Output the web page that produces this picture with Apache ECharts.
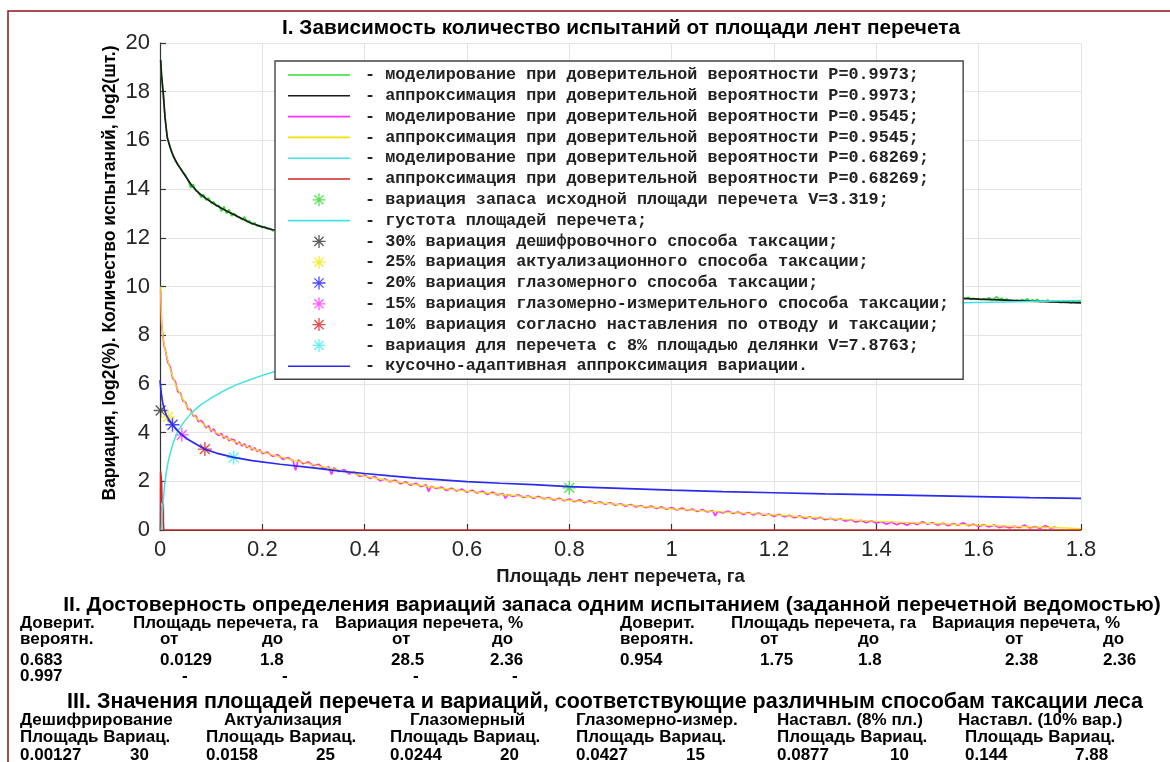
<!DOCTYPE html>
<html>
<head>
<meta charset="utf-8">
<script src="https://cdn.jsdelivr.net/npm/echarts@6/dist/echarts.min.js"></script>
<style>
  html, body { margin: 0; padding: 0; background: #fff; }
  #chart { width: 1170px; height: 762px; }
</style>
</head>
<body>
<div id="chart"></div>
<script>
// ---- Titles and axis names ----
const chartTitle = 'I. Зависимость количество испытаний от площади лент перечета';
const xAxisName = 'Площадь лент перечета, га';
const yAxisName = 'Вариация, log2(%). Количество испытаний, log2(шт.)';
const xTicks = [0, 0.2, 0.4, 0.6, 0.8, 1, 1.2, 1.4, 1.6, 1.8];
const yTicks = [0, 2, 4, 6, 8, 10, 12, 14, 16, 18, 20];

// ---- Modelling, P = 0.9973 (green, noisy) ----
const greenX = [0.0013,0.002,0.003,0.0045,0.0065,0.008,0.01,0.012,0.0143,0.017,0.02,0.023,0.026,0.03,0.035,0.04,0.045,0.05,0.055,0.06,0.065,0.07,0.075,0.08,0.085,0.09,0.095,0.1,0.105,0.11,0.115,0.12,0.125,0.13,0.135,0.14,0.145,0.15,0.155,0.16,0.165,0.17,0.175,0.18,0.185,0.19,0.195,0.2,0.205,0.21,0.215,0.22,0.225,0.23,
  0.25,0.3,0.35,0.4,0.45,0.5,0.55,0.6,0.65,0.7,0.75,0.8,0.85,0.9,0.95,1.0,1.05,1.1,1.15,1.2,1.25,1.3,1.35,1.4,1.45,1.5,1.55,
  1.56,1.565,1.57,1.575,1.58,1.585,1.59,1.595,1.6,1.605,1.61,1.615,1.62,1.625,1.63,1.635,1.64,1.645,1.65,1.655,1.66,1.665,1.67,1.675,1.68,1.685,1.69,1.695,1.7,1.705,1.71,1.715,1.72,1.725,1.73,1.735,1.74,1.745,1.75,1.755,1.76,1.765,1.77,1.775,1.78,1.785,1.79,1.795,1.8];
const greenY = [19.3,19.0,18.6,18.3,17.85,17.4,16.95,16.5,16.15,15.95,15.72,15.5,15.38,15.15,15.02,14.85,14.7,14.58,14.35,14.05,14.2,13.92,13.9,13.66,13.78,13.55,13.64,13.42,13.48,13.3,13.34,13.08,13.28,13.0,13.16,12.9,13.0,12.86,12.84,12.74,12.86,12.66,12.7,12.54,12.62,12.48,12.5,12.42,12.46,12.36,12.38,12.28,12.34,12.24,
  12.2,11.93,11.75,11.57,11.36,11.22,11.05,10.92,10.76,10.66,10.52,10.46,10.33,10.27,10.15,10.12,10.0,9.96,9.88,9.86,9.78,9.76,9.68,9.67,9.6,9.58,9.52,
  9.55,9.48,9.53,9.5,9.56,9.46,9.52,9.49,9.51,9.45,9.5,9.47,9.54,9.46,9.49,9.58,9.47,9.52,9.44,9.49,9.41,9.43,9.38,9.44,9.4,9.47,9.42,9.5,9.39,9.46,9.41,9.48,9.36,9.43,9.39,9.45,9.35,9.42,9.37,9.41,9.33,9.4,9.36,9.42,9.32,9.38,9.34,9.39,9.35];

// ---- Approximation, P = 0.9973 (black) ----
const blackX = [0.0013,0.003,0.0065,0.01,0.0143,0.02,0.026,0.035,0.046,0.062,0.075,0.091,0.105,0.121,0.135,0.15,0.176,0.2,0.221,0.25,0.3,0.4,0.5,0.6,0.7,0.8,0.9,1.0,1.1,1.2,1.3,1.4,1.5,1.6,1.7,1.8];
const blackY = [19.3,18.7,17.9,16.9,16.1,15.7,15.35,15.0,14.65,14.15,13.85,13.6,13.4,13.2,13.05,12.9,12.62,12.45,12.33,12.2,11.95,11.55,11.2,10.9,10.65,10.45,10.25,10.1,9.95,9.85,9.75,9.65,9.57,9.48,9.4,9.33];

// ---- Modelling, P = 0.9545 (magenta, noisy) ----
const pinkX = [0.0013,0.003,0.005,0.008,0.01,0.015,0.02,0.025,0.03,0.035,0.04,0.045,0.05,0.055,0.06,0.065,0.07,0.075,0.08,0.085,0.09,0.095,0.1,0.105,0.11,0.115,0.12,0.125,0.13,0.135,0.14,0.145,0.15,0.155,0.16,0.165,0.17,0.175,0.18,0.185,0.19,0.195,0.2,
  0.21,0.22,0.23,0.24,0.25,0.26,0.265,0.27,0.28,0.29,0.3,0.31,0.32,0.33,0.335,0.34,0.35,0.36,0.37,0.38,0.39,0.4,0.41,0.42,0.43,0.44,0.45,0.46,0.47,0.48,0.49,0.5,0.51,0.52,0.525,0.53,0.54,0.55,0.56,0.57,0.58,0.59,0.6,
  0.61,0.62,0.63,0.64,0.65,0.66,0.67,0.675,0.68,0.69,0.7,0.71,0.72,0.73,0.74,0.75,0.76,0.77,0.78,0.79,0.8,0.81,0.82,0.83,0.84,0.85,0.86,0.87,0.88,0.89,0.9,0.91,0.92,0.93,0.94,0.95,0.96,0.97,0.98,0.99,1.0,
  1.01,1.02,1.03,1.04,1.05,1.06,1.07,1.08,1.085,1.09,1.1,1.11,1.12,1.13,1.14,1.15,1.16,1.17,1.18,1.19,1.2,1.21,1.22,1.23,1.24,1.25,1.26,1.27,1.28,1.29,1.3,1.31,1.32,1.33,1.34,1.35,1.36,1.37,1.38,1.39,1.4,
  1.41,1.42,1.43,1.44,1.45,1.46,1.47,1.48,1.49,1.5,1.51,1.52,1.53,1.54,1.55,1.56,1.57,1.58,1.59,1.6,1.61,1.62,1.63,1.64,1.65,1.66,1.67,1.68,1.69,1.7,1.71,1.72,1.73,1.74,1.75];
const pinkY = [9.85,8.45,8.1,7.55,7.45,6.9,6.7,6.22,6.1,5.68,5.62,5.3,5.25,4.95,4.95,4.68,4.7,4.45,4.5,4.38,4.2,4.28,4.05,4.15,3.95,3.88,3.97,3.76,3.86,3.66,3.74,3.7,3.52,3.62,3.45,3.54,3.38,3.46,3.28,3.38,3.22,3.3,3.14,
  3.2,3.02,3.1,2.9,2.98,2.85,2.45,2.88,2.72,2.8,2.64,2.7,2.52,2.6,2.28,2.55,2.4,2.48,2.3,2.38,2.2,2.26,2.12,2.2,2.02,2.1,1.98,2.05,1.9,1.98,1.84,1.92,1.78,1.86,1.58,1.8,1.7,1.76,1.62,1.72,1.6,1.68,1.55,
  1.63,1.52,1.6,1.46,1.56,1.44,1.5,1.3,1.46,1.38,1.45,1.34,1.4,1.3,1.38,1.28,1.33,1.22,1.3,1.2,1.27,1.16,1.24,1.12,1.2,1.1,1.16,1.06,1.12,1.02,1.08,0.98,1.05,0.95,1.0,0.92,0.98,0.88,0.95,0.85,0.92,
  0.82,0.9,0.8,0.86,0.76,0.84,0.74,0.8,0.58,0.76,0.7,0.78,0.68,0.74,0.64,0.72,0.62,0.7,0.6,0.66,0.56,0.64,0.54,0.6,0.5,0.58,0.47,0.54,0.44,0.52,0.42,0.48,0.4,0.46,0.36,0.43,0.32,0.4,0.3,0.38,0.28,
  0.35,0.24,0.32,0.22,0.3,0.2,0.3,0.22,0.34,0.24,0.3,0.2,0.28,0.18,0.26,0.2,0.3,0.18,0.24,0.14,0.22,0.12,0.2,0.1,0.16,0.08,0.15,0.1,0.2,0.08,0.14,0.06,0.18,0.08,0.12];

// ---- Approximation, P = 0.9545 (yellow) ----
const yellowX = [0.0013,0.002,0.003,0.005,0.008,0.01,0.015,0.02,0.03,0.04,0.05,0.06,0.07,0.08,0.09,0.1,0.12,0.14,0.16,0.18,0.2,0.23,0.26,0.3,0.35,0.4,0.45,0.5,0.55,0.6,0.7,0.8,0.9,1.0,1.1,1.2,1.3,1.4,1.5,1.6,1.7,1.75,1.8];
const yellowY = [10.0,9.3,8.6,8.05,7.65,7.4,7.0,6.6,6.0,5.55,5.18,4.86,4.62,4.43,4.26,4.12,3.88,3.68,3.51,3.35,3.2,3.03,2.87,2.68,2.46,2.21,2.02,1.86,1.71,1.6,1.4,1.22,1.04,0.87,0.74,0.62,0.48,0.36,0.27,0.2,0.13,0.1,0.06];

// ---- Modelling, P = 0.68269 (cyan) ----
const cyanModelX = [0.0008,0.0015,0.003,0.005,0.0065,0.008];
const cyanModelY = [0,1.0,0.95,0.8,0.3,0];

// ---- Approximation, P = 0.68269 (red) ----
const redX = [0.0008,0.0012,0.003,0.004,0.0065,0.0068,1.8];
const redY = [0,2.4,2.0,1.15,1.05,0,0];

// ---- Density of tally areas (cyan) ----
const densityX = [0.0025,0.003,0.0045,0.0065,0.009,0.013,0.017,0.02,0.026,0.035,0.046,0.062,0.08,0.1,0.125,0.15,0.176,0.2,0.225,0.25,0.3,0.4,0.5,0.6,0.7,0.8,0.9,1.0,1.1,1.2,1.3,1.4,1.5,1.57,1.65,1.7,1.8];
const densityY = [0,0.15,0.7,1.23,1.85,2.47,2.9,3.15,3.6,4.05,4.42,4.82,5.15,5.42,5.72,5.97,6.17,6.35,6.51,6.66,6.9,7.3,7.7,8.0,8.25,8.5,8.7,8.85,9.0,9.1,9.18,9.25,9.3,9.33,9.36,9.38,9.42];

// ---- Piecewise-adaptive approximation of variation (blue) ----
const blueX = [0,0.002,0.005,0.0085,0.013,0.018,0.0244,0.032,0.0427,0.055,0.07,0.0877,0.11,0.144,0.18,0.235,0.3,0.352,0.4,0.45,0.5,0.55,0.6,0.665,0.73,0.8,0.9,1.0,1.1,1.2,1.3,1.447,1.6,1.7,1.8];
const blueY = [6.15,5.7,5.25,4.95,4.68,4.52,4.32,4.12,3.91,3.72,3.53,3.32,3.16,2.98,2.85,2.7,2.55,2.42,2.32,2.22,2.13,2.06,1.99,1.92,1.86,1.78,1.71,1.64,1.58,1.53,1.48,1.43,1.37,1.33,1.3];

// ---- Initial tally area variation ----
const baseArea = 0.8;
const baseVariation = 3.319;

// ---- Section II: reliability of one trial ----
const reliabilityHeader = ['Доверит.', 'Площадь перечета, га', 'Вариация перечета, %'];
const reliabilitySubHeader = ['вероятн.', 'от', 'до', 'от', 'до'];
const reliabilityLeft = [['0.683', '0.0129', '1.8', '28.5', '2.36'], ['0.997', '-', '-', '-', '-']];
const reliabilityRight = [['0.954', '1.75', '1.8', '2.38', '2.36']];
const sectionTwoTitle = 'II. Достоверность определения вариаций запаса одним испытанием (заданной перечетной ведомостью)';

// ---- Section III: areas and variations per taxation method ----
const sectionThreeTitle = 'III. Значения площадей перечета и вариаций, соответствующие различным способам таксации леса';
const methodNames = ['Дешифрирование', 'Актуализация', 'Глазомерный', 'Глазомерно-измер.', 'Наставл. (8% пл.)', 'Наставл. (10% вар.)'];
const methodAreas = [0.00127, 0.0158, 0.0244, 0.0427, 0.0877, 0.144];
const methodVars = [30, 25, 20, 15, 10, 7.88];

// ---- Legend captions ----
const names = [
  'моделирование при доверительной вероятности P=0.9973;',
  'аппроксимация при доверительной вероятности P=0.9973;',
  'моделирование при доверительной вероятности P=0.9545;',
  'аппроксимация при доверительной вероятности P=0.9545;',
  'моделирование при доверительной вероятности P=0.68269;',
  'аппроксимация при доверительной вероятности P=0.68269;',
  'вариация запаса исходной площади перечета V=3.319;',
  'густота площадей перечета;',
  '30% вариация дешифровочного способа таксации;',
  '25% вариация актуализационного способа таксации;',
  '20% вариация глазомерного способа таксации;',
  '15% вариация глазомерно-измерительного способа таксации;',
  '10% вариация согласно наставления по отводу и таксации;',
  'вариация для перечета с 8% площадью делянки V=7.8763;',
  'кусочно-адаптивная аппроксимация вариации.'
];

// ---- Drawing ----
const STAR = 'path://M-1 -10L1 -10L1 10L-1 10Z M-10 -1L10 -1L10 1L-10 1Z M-6.36 -7.78L7.78 6.36L6.36 7.78L-7.78 -6.36Z M-7.78 6.36L6.36 -7.78L7.78 -6.36L-6.36 7.78Z';
const LINE_ICON = 'path://M0 0L62 0L62 1.6L0 1.6Z';
const SANS = '"Liberation Sans", Arial, Helvetica, sans-serif';

const zip = (xs, ys) => xs.map((x, i) => [x, ys[i]]);

function lineSeries(name, xs, ys, color, width) {
  return {
    type: 'line', name, data: zip(xs, ys), symbol: 'none', showSymbol: false,
    lineStyle: { color, width: width || 1.5 }, itemStyle: { color },
    silent: true, animation: false, emphasis: { disabled: true }, clip: true
  };
}
function starSeries(name, points, color) {
  return {
    type: 'scatter', name, data: points, symbol: STAR, symbolSize: 14,
    itemStyle: { color }, silent: true, animation: false, emphasis: { disabled: true }
  };
}
const methodPoint = i => [[methodAreas[i], Math.log2(methodVars[i])]];

const colors = {
  green: '#33dd33', black: '#1c1c1c', magenta: '#ff33ff', yellow: '#eee600',
  cyan: '#40e4e4', red: '#d42626', blue: '#2a2af0'
};

const series = [
  lineSeries(names[0], greenX, greenY, colors.green, 1.6),
  lineSeries(names[1], blackX, blackY, colors.black, 1.7),
  lineSeries(names[2], pinkX, pinkY, colors.magenta, 1.7),
  lineSeries(names[3], yellowX, yellowY, colors.yellow, 1.2),
  lineSeries(names[4], cyanModelX, cyanModelY, colors.cyan),
  lineSeries(names[5], redX, redY, colors.red, 1.6),
  starSeries(names[6], [[baseArea, Math.log2(baseVariation)]], '#2edb2e'),
  lineSeries(names[7], densityX, densityY, colors.cyan),
  starSeries(names[8], methodPoint(0), '#333333'),
  starSeries(names[9], methodPoint(1), '#f2e600'),
  starSeries(names[10], methodPoint(2), '#1f1fff'),
  starSeries(names[11], methodPoint(3), '#ff33ff'),
  starSeries(names[12], methodPoint(4), '#e02020'),
  starSeries(names[13], methodPoint(5), '#44eeee'),
  lineSeries(names[14], blueX, blueY, colors.blue, 1.7)
];

const lineEntries = new Set([0, 1, 2, 3, 4, 5, 7, 14]);
const legendData = names.map((n, i) => lineEntries.has(i) ? { name: n, icon: LINE_ICON } : { name: n });

// Text blocks around the plot
const texts = [];
function addText(str, x, y, size, align, rotation) {
  const a = align || 'left';
  texts.push({
    type: 'text', x, y, rotation: rotation || 0, silent: true,
    style: {
      text: str, font: 'bold ' + size + 'px ' + SANS, fill: '#000',
      textAlign: a, align: a, textVerticalAlign: 'middle', verticalAlign: 'middle'
    }
  });
}
addText(chartTitle, 621, 28, 20.8, 'center');
addText(yAxisName, 110, 273, 17.5, 'center', Math.PI / 2);

const TABLE_FONT = 17;
addText(sectionTwoTitle, 612, 605, 21, 'center');
const headX = [20, 133, 335];
const rightHeadX = [620, 731, 932];
const subX = [20, 160, 262, 392, 492];
const rightSubX = [620, 760, 858, 1005, 1103];
reliabilityHeader.forEach((t, i) => {
  addText(t, headX[i], 623, TABLE_FONT);
  addText(t, rightHeadX[i], 623, TABLE_FONT);
});
reliabilitySubHeader.forEach((t, i) => {
  addText(t, subX[i], 639, TABLE_FONT);
  addText(t, rightSubX[i], 639, TABLE_FONT);
});
const valueX = [20, 160, 260, 391, 490];
reliabilityLeft.forEach((row, r) => {
  row.forEach((t, i) => addText(t, valueX[i] + (t === '-' ? 22 : 0), 660 + r * 16, TABLE_FONT));
});
reliabilityRight.forEach((row, r) => {
  row.forEach((t, i) => addText(t, rightSubX[i], 660 + r * 16, TABLE_FONT));
});

addText(sectionThreeTitle, 605, 702, 21.5, 'center');
const nameX = [20, 224, 410, 576, 777, 958];
const colX = [20, 206, 390, 576, 777, 965];
const varX = [130, 316, 500, 686, 890, 1075];
methodNames.forEach((t, i) => {
  addText(t, nameX[i], 720, TABLE_FONT);
  addText('Площадь Вариац.', colX[i], 737, TABLE_FONT);
  addText(String(methodAreas[i]), colX[i], 755, TABLE_FONT);
  addText(String(methodVars[i]), varX[i], 755, TABLE_FONT);
});

// Figure frame
texts.push({
  type: 'rect', silent: true, z: -1,
  shape: { x: 8, y: 11, width: 1200, height: 800 },
  style: { fill: 'none', stroke: '#8a1515', lineWidth: 1.5 }
});

const chart = echarts.init(document.getElementById('chart'), null, { renderer: 'canvas' });
chart.setOption({
  animation: false,
  backgroundColor: '#fff',
  grid: { left: 160, right: 89, top: 43, bottom: 232, containLabel: false, outerBoundsMode: 'none' },
  xAxis: {
    type: 'value', min: xTicks[0], max: xTicks[xTicks.length - 1], interval: 0.2,
    name: xAxisName, nameLocation: 'middle', nameGap: 37,
    nameTextStyle: { fontFamily: SANS, fontSize: 18.5, fontWeight: 'bold', color: '#1a1a1a' },
    axisLine: { show: true, onZero: false, lineStyle: { color: '#333', width: 1.2 } },
    axisTick: { show: true, inside: true, length: 6, lineStyle: { color: '#333', width: 1.2 } },
    axisLabel: { fontFamily: SANS, fontSize: 22, color: '#262626', margin: 9, formatter: v => String(+v.toFixed(1)) },
    splitLine: { show: true, lineStyle: { color: '#e4e4e4', width: 1 } }
  },
  yAxis: {
    type: 'value', min: yTicks[0], max: yTicks[yTicks.length - 1], interval: 2,
    axisLine: { show: true, onZero: false, lineStyle: { color: '#333', width: 1.2 } },
    axisTick: { show: true, inside: true, length: 6, lineStyle: { color: '#333', width: 1.2 } },
    axisLabel: { fontFamily: SANS, fontSize: 22, color: '#262626', margin: 10 },
    splitLine: { show: true, lineStyle: { color: '#e4e4e4', width: 1 } }
  },
  legend: {
    orient: 'vertical', left: 275, top: 61,
    padding: [4, 14, 3, 13],
    itemWidth: 62, itemHeight: 13, itemGap: 0.8,
    backgroundColor: '#fff', borderColor: '#444', borderWidth: 1.4, borderRadius: 0,
    selectedMode: false,
    formatter: n => ' - ' + n,
    textStyle: { fontFamily: '"Liberation Mono", "Courier New", monospace', fontSize: 16.8, fontWeight: 'bold', color: '#222', lineHeight: 20 },
    data: legendData
  },
  tooltip: { show: false },
  series,
  graphic: texts
});
</script>
</body>
</html>
